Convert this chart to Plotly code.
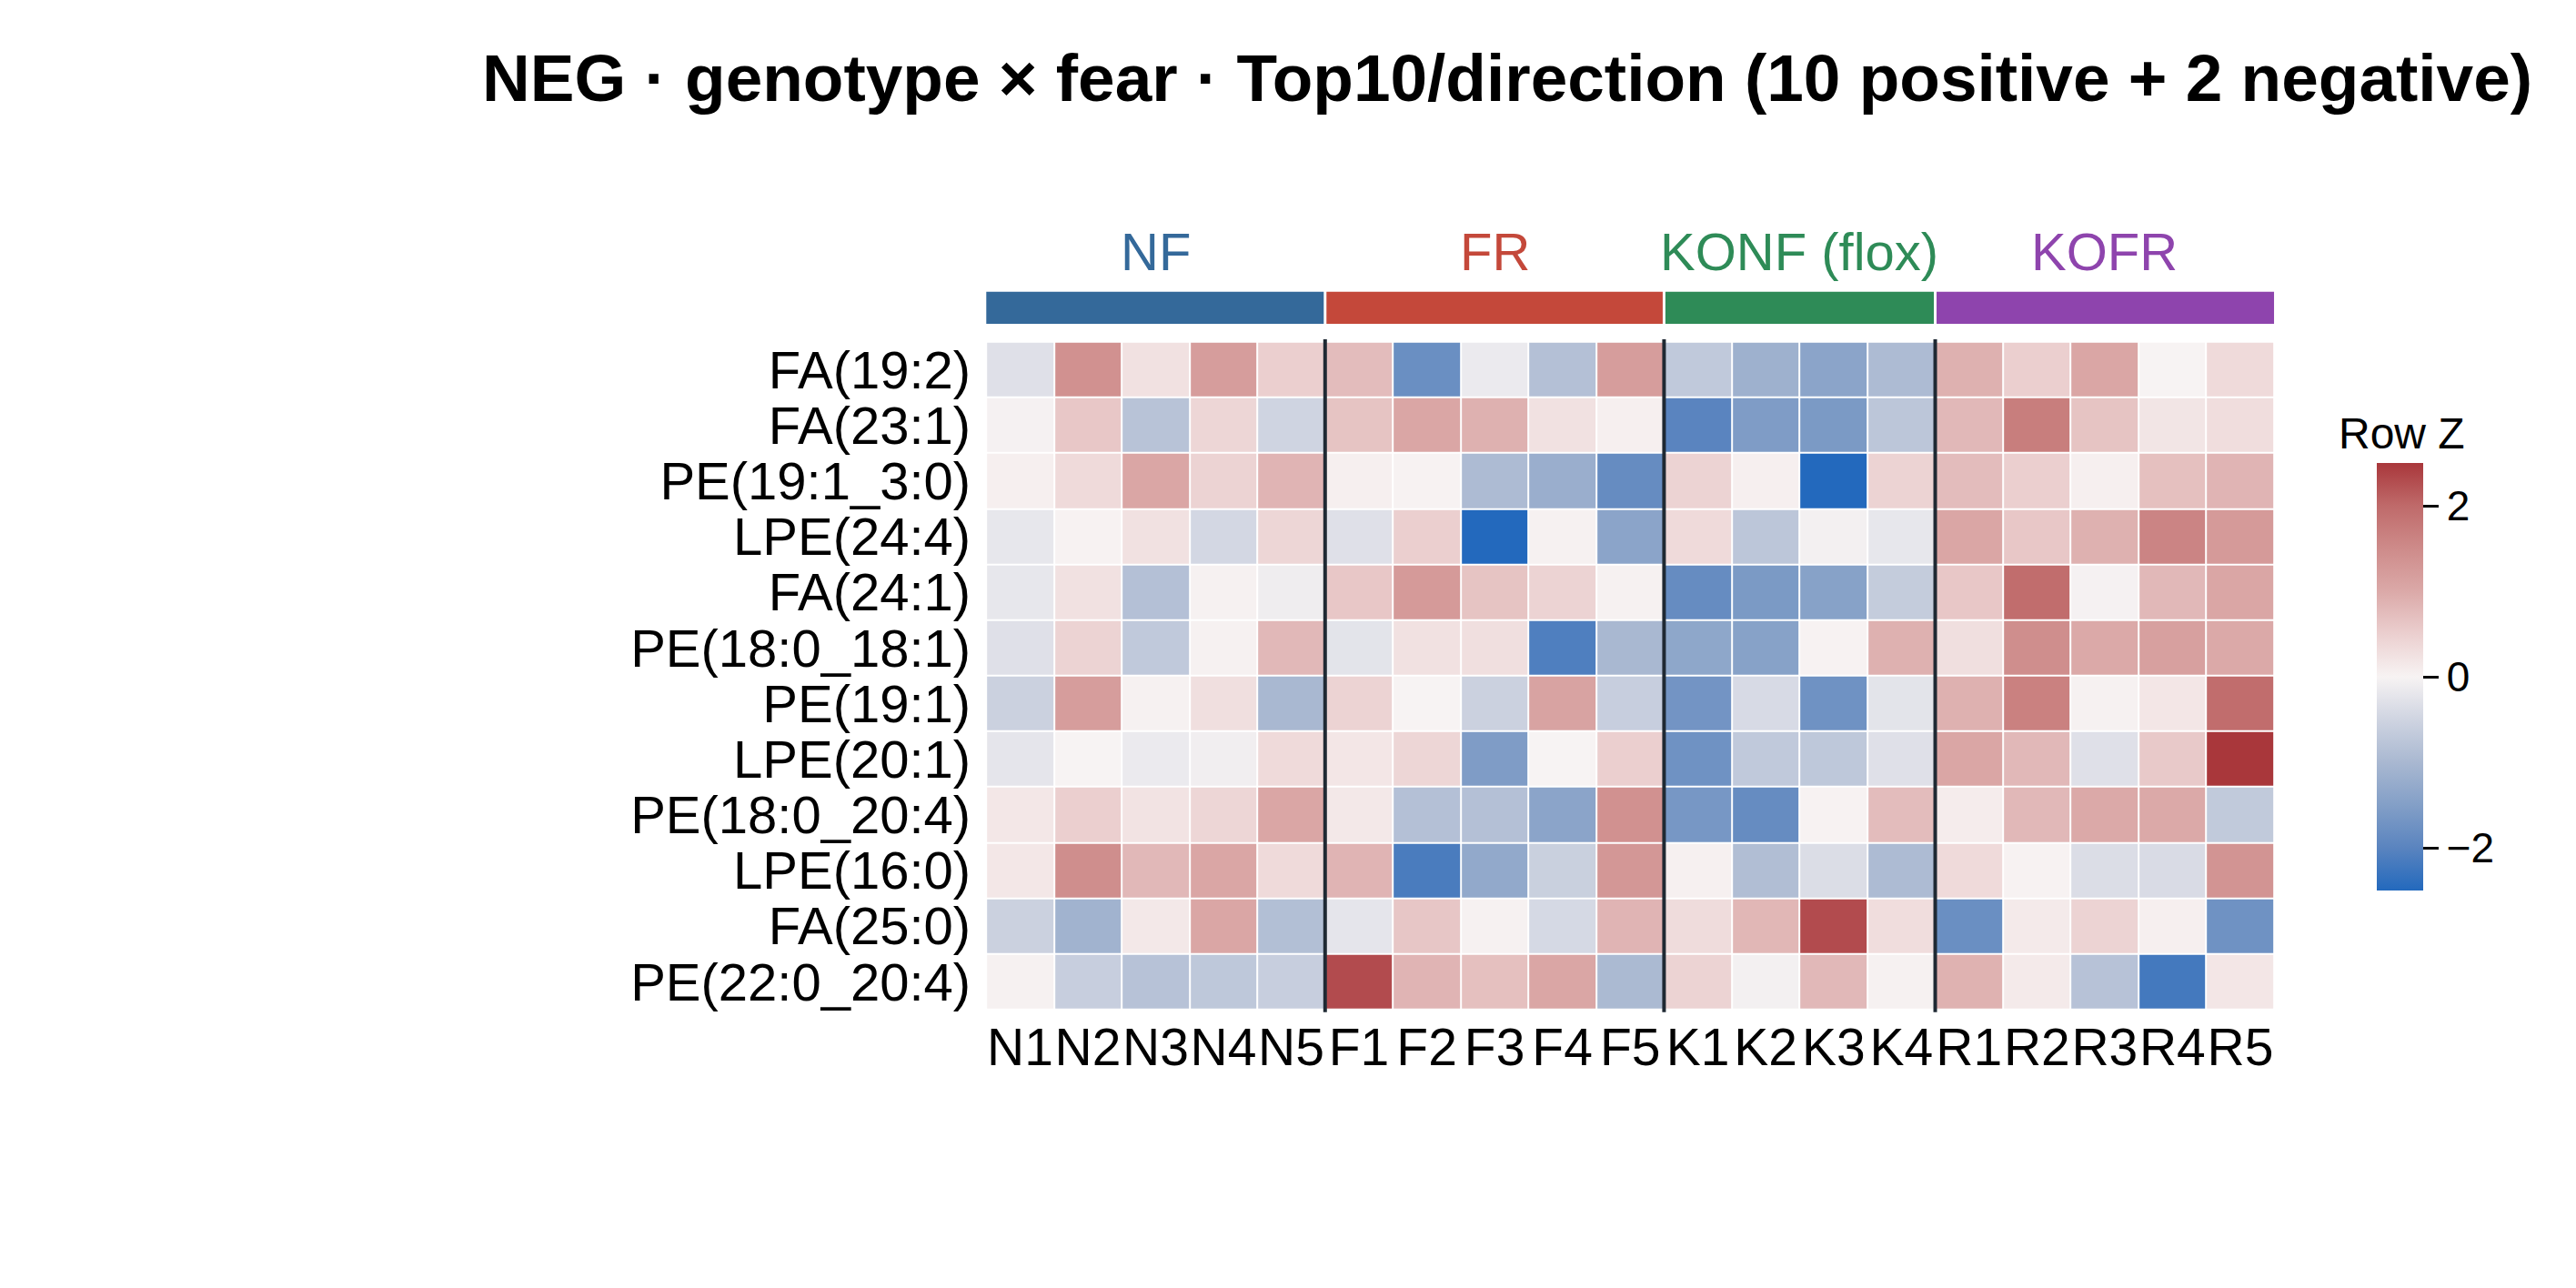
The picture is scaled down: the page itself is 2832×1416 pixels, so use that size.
import plotly.graph_objects as go

# Row-z-scored abundances
lipids = ["FA(19:2)", "FA(23:1)", "PE(19:1_3:0)", "LPE(24:4)", "FA(24:1)",
          "PE(18:0_18:1)", "PE(19:1)", "LPE(20:1)", "PE(18:0_20:4)",
          "LPE(16:0)", "FA(25:0)", "PE(22:0_20:4)"]
samples = ["N1", "N2", "N3", "N4", "N5", "F1", "F2", "F3", "F4", "F5",
           "K1", "K2", "K3", "K4", "R1", "R2", "R3", "R4", "R5"]
groups = ["NF", "FR", "KONF (flox)", "KOFR"]
group_sizes = [5, 5, 4, 5]
group_colors = ["#34699a", "#c4483a", "#2e8b57", "#8e44ad"]

z = [
    [-0.30, 1.40, 0.25, 1.20, 0.50, 0.75, -1.80, -0.15, -0.85, 1.20, -0.70, -1.15, -1.40, -0.95, 0.90, 0.50, 1.05, 0.00, 0.35],
    [-0.03, 0.60, -0.80, 0.40, -0.50, 0.65, 1.05, 0.90, 0.25, 0.05, -2.00, -1.55, -1.60, -0.75, 0.80, 1.70, 0.65, 0.20, 0.30],
    [0.05, 0.35, 1.05, 0.45, 0.85, 0.05, 0.02, -0.95, -1.20, -1.85, 0.45, 0.05, -2.50, 0.45, 0.75, 0.50, 0.05, 0.70, 0.85],
    [-0.20, 0.02, 0.25, -0.45, 0.40, -0.30, 0.50, -2.50, 0.03, -1.40, 0.35, -0.75, -0.05, -0.20, 1.05, 0.60, 0.90, 1.60, 1.25],
    [-0.20, 0.25, -0.85, 0.03, -0.10, 0.60, 1.25, 0.65, 0.45, 0.03, -1.85, -1.60, -1.45, -0.65, 0.60, 1.95, -0.03, 0.80, 1.05],
    [-0.30, 0.45, -0.70, 0.03, 0.80, -0.25, 0.25, 0.28, -2.10, -1.00, -1.35, -1.45, 0.02, 0.90, 0.28, 1.45, 1.00, 1.15, 1.00],
    [-0.55, 1.20, 0.03, 0.28, -1.00, 0.45, 0.00, -0.55, 1.10, -0.60, -1.70, -0.40, -1.75, -0.25, 0.90, 1.65, 0.03, 0.18, 1.95],
    [-0.22, 0.00, -0.15, -0.08, 0.35, 0.18, 0.40, -1.55, 0.00, 0.50, -1.75, -0.70, -0.72, -0.30, 1.05, 0.80, -0.30, 0.58, 2.50],
    [0.17, 0.50, 0.22, 0.40, 1.05, 0.15, -0.85, -0.85, -1.40, 1.40, -1.65, -1.85, 0.02, 0.75, 0.10, 0.80, 1.00, 1.00, -0.68],
    [0.17, 1.45, 0.80, 1.05, 0.35, 0.85, -2.15, -1.30, -0.58, 1.30, 0.04, -0.90, -0.35, -0.95, 0.35, 0.02, -0.35, -0.38, 1.35],
    [-0.55, -1.10, 0.15, 1.05, -0.88, -0.22, 0.62, 0.03, -0.42, 0.85, 0.32, 0.82, 2.30, 0.30, -1.80, 0.12, 0.45, 0.06, -1.75],
    [0.03, -0.60, -0.82, -0.72, -0.60, 2.30, 0.85, 0.70, 1.05, -0.97, 0.45, -0.05, 0.80, 0.03, 0.88, 0.12, -0.82, -2.20, 0.18],
]

# vlag-like diverging scale
vlag = [
    [0.0, "#2369bd"], [0.1, "#5a84bf"], [0.2, "#839fc7"], [0.3, "#a9b8d1"],
    [0.4, "#cfd4e1"], [0.5, "#f7f3f3"], [0.6, "#ebcfcf"], [0.7, "#dba9a8"],
    [0.8, "#ce8b8a"], [0.9, "#bf6a6a"], [1.0, "#a9373b"],
]

FONT = "Liberation Sans, Arial, sans-serif"

fig = go.Figure(
    go.Heatmap(
        z=z,
        x=list(range(len(samples))),
        y=list(range(len(lipids))),
        colorscale=vlag,
        zmin=-2.5,
        zmax=2.5,
        xgap=2,
        ygap=2,
        colorbar=dict(
            thickness=51,
            len=0.3326,
            lenmode="fraction",
            x=0.9198,
            xanchor="left",
            xpad=0,
            y=0.4799,
            yanchor="middle",
            ypad=0,
            outlinewidth=0,
            tickvals=[-2, 0, 2],
            ticktext=["\u22122", "0", "2"],
            ticks="outside",
            ticklen=17,
            tickwidth=3,
            tickcolor="black",
            tickfont=dict(size=46, color="black"),
        ),
    )
)

# colour bar title, centred over the bar
fig.add_annotation(x=0.9294, xref="paper", y=0.6497, yref="paper",
                   xanchor="center", yanchor="bottom", showarrow=False,
                   text="Row Z", font=dict(size=48, color="black", family=FONT))

# group colour bar, labels and separators
start = 0
for i, (g, n, c) in enumerate(zip(groups, group_sizes, group_colors)):
    x0 = start - 0.5 + (0.02 if i > 0 else 0)
    x1 = start + n - 0.5 - (0.02 if i < len(groups) - 1 else 0)
    fig.add_shape(type="rect", xref="x", yref="paper", x0=x0, x1=x1,
                  y0=0.755, y1=0.780, fillcolor=c, line_width=0, layer="above")
    fig.add_annotation(x=start + (n - 1) / 2, xref="x", y=0.811, yref="paper",
                       text=g, showarrow=False, yanchor="middle",
                       font=dict(size=58, color=c, family=FONT))
    if i > 0:
        fig.add_shape(type="line", xref="x", yref="paper",
                      x0=start - 0.5, x1=start - 0.5, y0=0.219, y1=0.743,
                      line=dict(color="#1f2933", width=4), layer="above")
    start += n

fig.update_layout(
    width=2832,
    height=1416,
    margin=dict(l=0, r=0, t=0, b=0),
    paper_bgcolor="white",
    plot_bgcolor="white",
    font=dict(family=FONT, color="black"),
    title=dict(
        text="<b>NEG · genotype × fear · Top10/direction (10 positive + 2 negative)</b>",
        x=0.5823, xanchor="center", y=0.945, yanchor="middle",
        font=dict(size=73, color="black", family=FONT),
    ),
    xaxis=dict(
        domain=[0.380, 0.880],
        tickmode="array",
        tickvals=list(range(len(samples))),
        ticktext=samples,
        tickfont=dict(size=57),
        tickangle=0,
        showgrid=False,
        zeroline=False,
        ticks="",
        ticklabelstandoff=3,
        range=[-0.5, len(samples) - 0.5],
    ),
    yaxis=dict(
        domain=[0.221, 0.741],
        tickmode="array",
        tickvals=list(range(len(lipids))),
        ticktext=lipids,
        tickfont=dict(size=58),
        showgrid=False,
        zeroline=False,
        ticks="",
        ticklabelstandoff=16,
        range=[len(lipids) - 0.5, -0.5],
    ),
)

fig.write_html("out.html")
